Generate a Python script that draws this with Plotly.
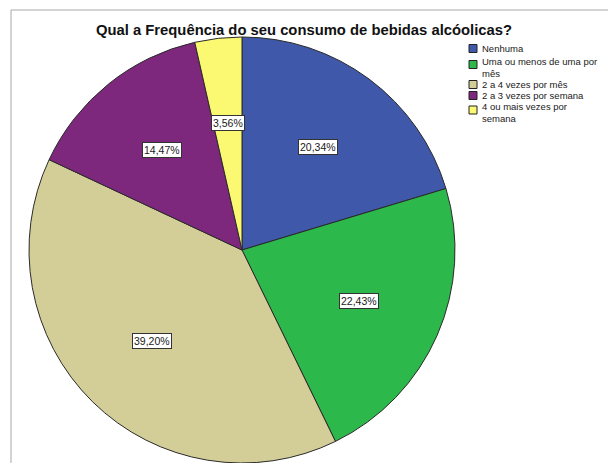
import math
import plotly.graph_objects as go

# ---------------- data ----------------
title = "Qual a Frequência do seu consumo de bebidas alcóolicas?"
categories = [
    "Nenhuma",
    "Uma ou menos de uma por<br>mês",
    "2 a 4 vezes por mês",
    "2 a 3 vezes por semana",
    "4 ou mais vezes por<br>semana",
]
percent = [20.34, 22.43, 39.20, 14.47, 3.56]
label_text = ["20,34%", "22,43%", "39,20%", "14,47%", "3,56%"]

# ---------------- style ----------------
colors = ["#3F58AA", "#2DB84B", "#D3CE98", "#7D277D", "#FBF872"]
FONT = "Liberation Sans, Arial, sans-serif"
W, H = 608, 463
cx_px, R = 242, 213
dom_x = [(cx_px - R) / W, (cx_px + R) / W]
dom_y = [0, 2 * R / H]
cy_px = H - R
LABEL_R = 0.6

# legend layout (pixels from top-left)
leg_marker_x = (469, 477)
leg_text_x = 481
leg_text_y = [48, 67.5, 84.5, 95.5, 112.5]
leg_marker_y = [48.5, 64.5, 84.5, 95.5, 110]

fig = go.Figure(go.Pie(
    labels=categories,
    values=percent,
    sort=False,
    direction="clockwise",
    rotation=0,
    textinfo="none",
    hoverinfo="label+percent",
    showlegend=False,
    marker=dict(colors=colors, line=dict(color="#2a2a2a", width=1)),
    domain=dict(x=dom_x, y=dom_y),
))

annotations = []
shapes = []

# slice value labels, placed from the cumulative angles of the data
total = sum(percent)
cum = 0.0
for v, t in zip(percent, label_text):
    mid = (cum + v / 2) / total * 2 * math.pi
    cum += v
    r = LABEL_R * R
    px = cx_px + r * math.sin(mid)
    py = cy_px - r * math.cos(mid)
    annotations.append(dict(
        x=px / W, y=(H - py) / H, xref="paper", yref="paper",
        xanchor="center", yanchor="middle",
        text=t, showarrow=False,
        font=dict(family=FONT, size=10.5, color="#1a1a1a"),
        bgcolor="white", bordercolor="#333333", borderwidth=1, borderpad=1,
    ))

# compact legend (SPSS style)
for i, (cat, col) in enumerate(zip(categories, colors)):
    my = leg_marker_y[i]
    shapes.append(dict(type="rect", xref="paper", yref="paper",
                       x0=leg_marker_x[0] / W, x1=leg_marker_x[1] / W,
                       y0=(H - (my + 4)) / H, y1=(H - (my - 4)) / H,
                       fillcolor=col, line=dict(color="#222222", width=1)))
    annotations.append(dict(
        x=leg_text_x / W, y=(H - leg_text_y[i]) / H, xref="paper", yref="paper",
        xanchor="left", yanchor="middle", align="left", text=cat, showarrow=False,
        borderpad=0,
        font=dict(family=FONT, size=9.5, color="#1a1a1a"),
    ))

# outer frame
shapes.append(dict(type="rect", xref="paper", yref="paper",
                   x0=11 / W, x1=1.05, y0=-0.05, y1=(H - 10) / H,
                   line=dict(color="#a8a8a8", width=1),
                   fillcolor="rgba(0,0,0,0)", layer="below"))

fig.update_layout(
    width=W, height=H,
    margin=dict(l=0, r=0, t=0, b=0),
    paper_bgcolor="white",
    showlegend=False,
    title=dict(text="<b>" + title + "</b>", x=304 / W, xanchor="center",
               y=(H - 30) / H, yanchor="middle",
               font=dict(family=FONT, size=14.8, color="#111111")),
    annotations=annotations,
    shapes=shapes,
)

fig.write_html("out.html",
               config={"displayModeBar": False},
               post_script="document.body.style.margin='0';document.body.style.overflow='hidden';")
